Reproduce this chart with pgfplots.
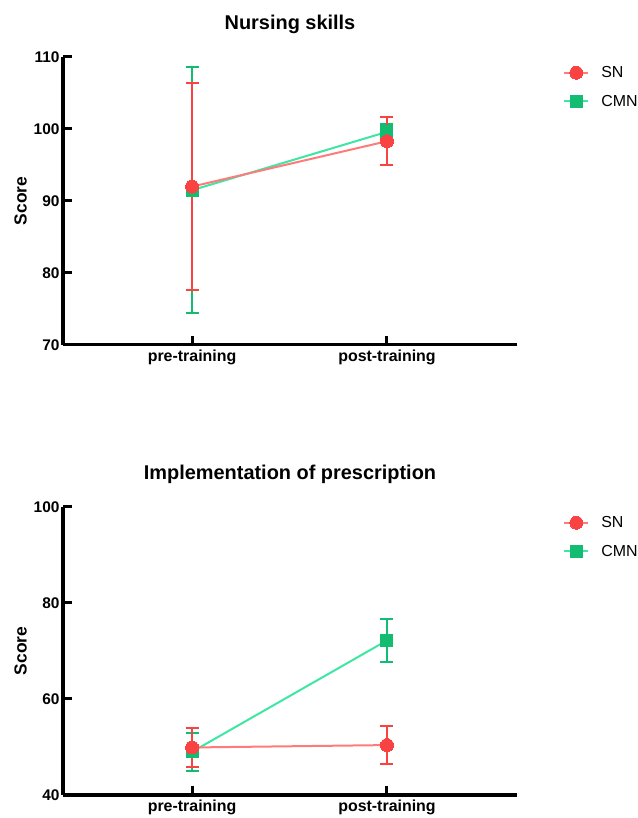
\documentclass[border=0pt]{standalone}
\usepackage{fontspec}
\setmainfont{Liberation Sans}
\usepackage{pgfplots}
\pgfplotsset{compat=1.18}
\definecolor{snmark}{HTML}{F94343}
\definecolor{snline}{HTML}{FF7B7B}
\definecolor{cmnmark}{HTML}{12BD72}
\definecolor{cmnline}{HTML}{3DE6A3}
\pgfplotsset{
 myaxis/.style={
  scale only axis, width=454bp, height=288bp,
  axis x line*=bottom, axis y line*=left,
  axis line style={line width=3bp, -},
  major tick style={line width=3bp, black},
  major tick length=9bp,
  tick align=inside,
  xmin=-0.662, xmax=1.667,
  xtick={0,1}, xticklabels={pre-training,post-training},
  /pgf/number format/assume math mode=true,
  yticklabel style={font=\fontsize{15.5}{17}\selectfont\bfseries},
  xticklabel style={font=\fontsize{16}{18}\selectfont\bfseries, yshift=-1bp},
  ylabel={Score}, ylabel style={font=\fontsize{17.5}{19}\selectfont\bfseries},
  title style={font=\fontsize{20}{23}\selectfont\bfseries, anchor=center, yshift=27bp},
  legend style={draw=none, fill=none, font=\fontsize{16}{18}\selectfont, at={(1.095,0.982)}, anchor=north west, row sep=12bp},
  legend cell align=left,
  legend image code/.code={\draw[mark repeat=2,mark phase=2] plot coordinates {(0bp,0bp) (12bp,0bp) (24bp,0bp)}; \path (34bp,0bp);},
  clip=false,
 },
 snstyle/.style={color=snline, line width=2bp, mark=*, mark size=6.5bp, mark options={fill=snmark, draw=snmark, line width=0pt}},
 cmnstyle/.style={color=cmnline, line width=2bp, mark=square*, mark size=6bp, mark options={fill=cmnmark, draw=cmnmark, line width=0pt}},
 snerr/.style={error bars/.cd, y dir=both, y explicit, error bar style={color=snmark, line width=2bp}, error mark options={rotate=90, mark size=6.5bp, line width=2bp, color=snmark}},
 cmnerr/.style={error bars/.cd, y dir=both, y explicit, error bar style={color=cmnmark, line width=2bp}, error mark options={rotate=90, mark size=6.5bp, line width=2bp, color=cmnmark}},
}
\begin{document}
\begin{tikzpicture}
\useasboundingbox (0,0) rectangle (638bp,818bp);
\begin{axis}[myaxis, at={(63bp,473bp)}, anchor=south west,
  ymin=70, ymax=110, ytick={70,80,90,100,110}, title={Nursing skills}]
\addlegendimage{snstyle}\addlegendentry{SN}
\addlegendimage{cmnstyle}\addlegendentry{CMN}
\addplot[cmnstyle, forget plot, cmnerr] coordinates {(0,91.5) +- (0,17.1) (1,99.6) +- (0,1.1)};
\addplot[snstyle, forget plot, snerr] coordinates {(0,92.0) +- (0,14.4) (1,98.3) +- (0,3.35)};
\end{axis}
\begin{axis}[myaxis, at={(63bp,23bp)}, anchor=south west,
  ymin=40, ymax=100, ytick={40,60,80,100}, title={Implementation of prescription}]
\addlegendimage{snstyle}\addlegendentry{SN}
\addlegendimage{cmnstyle}\addlegendentry{CMN}
\addplot[cmnstyle, forget plot, cmnerr] coordinates {(0,49.0) +- (0,3.9) (1,72.2) +- (0,4.5)};
\addplot[snstyle, forget plot, snerr] coordinates {(0,49.9) +- (0,4.1) (1,50.4) +- (0,4.0)};
\end{axis}
\end{tikzpicture}
\end{document}
